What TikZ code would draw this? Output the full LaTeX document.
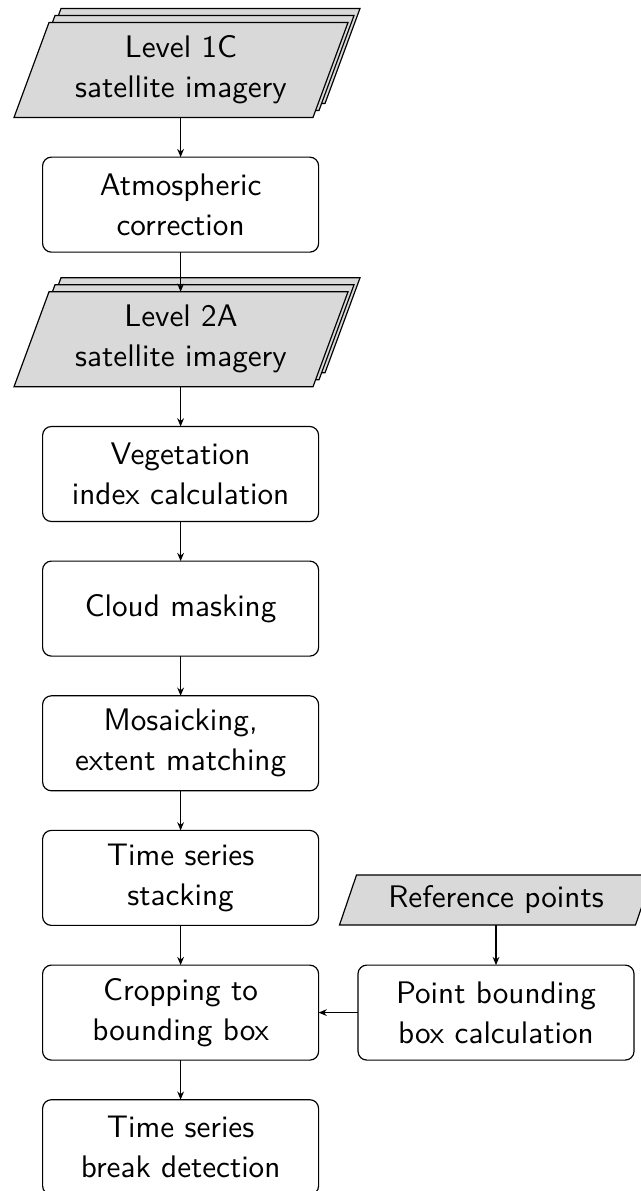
\documentclass[tikz,border=0pt]{standalone}
\usetikzlibrary{arrows.meta}
\newcommand{\paraShape}[5]{% cx, cy, half width, half height, slant
  \filldraw[parafill] ({#1-#3},{#2+#4}) -- ({#1+#3-#5},{#2+#4}) -- ({#1+#3},{#2-#4}) -- ({#1-#3+#5},{#2-#4}) -- cycle;}
\begin{document}
\begin{tikzpicture}[x=0.34pt,y=-0.34pt,
  every node/.style={font=\sffamily\fontsize{10.6}{13.6}\selectfont, align=center, inner sep=0pt, outer sep=0pt},
  procbox/.style={draw, rounded corners=3pt, minimum width=276*0.34pt, minimum height=95*0.34pt, line width=0.4pt},
  dataframe/.style={minimum width=334*0.34pt, minimum height=95*0.34pt},
  refframe/.style={minimum width=313*0.34pt, minimum height=50*0.34pt},
  parafill/.style={fill=gray!30, draw=black, line width=0.4pt},
  flow/.style={-{Stealth[length=2.8pt,width=2.3pt]}, line width=0.4pt}]
\clip (0,0) rectangle (641,1191);
% stacked data shapes
\paraShape{193}{56}{167}{47.5}{35}
\paraShape{187}{63}{167}{47.5}{35}
\paraShape{181}{70}{167}{47.5}{35}
\paraShape{193}{325.3}{167}{47.5}{35}
\paraShape{187}{332.3}{167}{47.5}{35}
\paraShape{181}{339.3}{167}{47.5}{35}
\paraShape{496}{900}{156.5}{25}{17}
% nodes
\node[dataframe] (l1c) at (181,70) {Level 1C\\satellite imagery};
\node[procbox] (atm) at (180.6,204.65) {Atmospheric\\correction};
\node[dataframe] (l2a) at (181,339.3) {Level 2A\\satellite imagery};
\node[procbox] (veg) at (180.6,474) {Vegetation\\index calculation};
\node[procbox] (cloud) at (180.6,608.6) {Cloud masking};
\node[procbox] (mos) at (180.6,743.3) {Mosaicking,\\extent matching};
\node[procbox] (stack) at (180.6,877.9) {Time series\\stacking};
\node[procbox] (crop) at (180.6,1012.6) {Cropping to\\bounding box};
\node[procbox] (brk) at (180.6,1147.2) {Time series\\break detection};
\node[refframe] (ref) at (496,900) {Reference points};
\node[procbox] (pbb) at (496,1012.6) {Point bounding\\box calculation};
% connectors
\draw[flow] (l1c.south -| atm.north) -- (atm.north);
\draw[flow] (atm.south) -- (atm.south |- l2a.north);
\draw[flow] (l2a.south -| veg.north) -- (veg.north);
\draw[flow] (veg.south) -- (cloud.north);
\draw[flow] (cloud.south) -- (mos.north);
\draw[flow] (mos.south) -- (stack.north);
\draw[flow] (stack.south) -- (crop.north);
\draw[flow] (crop.south) -- (brk.north);
\draw[flow] (ref.south) -- (pbb.north);
\draw[flow] (pbb.west) -- (crop.east);
\end{tikzpicture}
\end{document}
